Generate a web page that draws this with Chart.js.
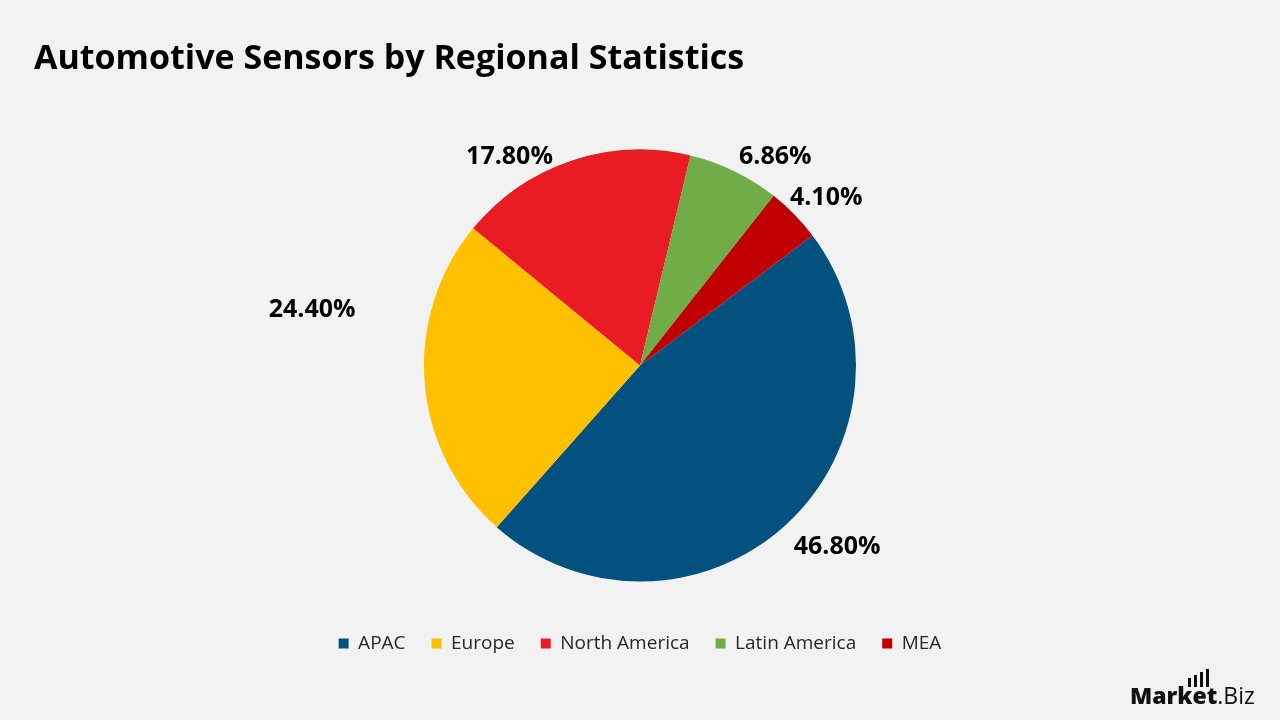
<!DOCTYPE html>
<html>
<head>
<meta charset="utf-8">
<script src="https://cdn.jsdelivr.net/npm/chart.js@4"></script>
<style>
  html, body { margin: 0; padding: 0; background: #f2f2f2; }
  #wrap { position: relative; width: 1280px; height: 720px; overflow: hidden; }
  #title { position: absolute; left: 34px; top: 33px; font-family: "Open Sans", sans-serif; font-weight: 700; font-size: 34px; color: #000; white-space: nowrap; }
  #logo { position: absolute; left: 1130px; top: 679px; font-family: "Open Sans", sans-serif; font-size: 23px; color: #111; white-space: nowrap; }
  #logo b { font-weight: 800; }
  .bar { position: absolute; width: 3px; background: #111; }
  canvas { position: absolute; left: 0; top: 0; }
</style>
</head>
<body>
<div id="wrap">
  <canvas id="pie" width="1280" height="720"></canvas>
  <div id="title">Automotive Sensors by Regional Statistics</div>
  <div id="logo"><b>Market</b>.Biz</div>
  <div class="bar" style="left:1188px;top:678px;height:9px"></div>
  <div class="bar" style="left:1194px;top:675px;height:12px"></div>
  <div class="bar" style="left:1200px;top:672px;height:15px"></div>
  <div class="bar" style="left:1206px;top:669px;height:18px"></div>
</div>
<script>
var regions = ["APAC", "Europe", "North America", "Latin America", "MEA"];
var shares = [46.80, 24.40, 17.80, 6.86, 4.10];
var colours = ["#02517f", "#ffc000", "#e91c24", "#70ad47", "#c00000"];

// where each % label sits: [degrees clockwise from top, distance as share of radius]
var labelSpots = [[132.6, 1.24], [279.7, 1.54], [328, 1.14], [33, 1.15], [48, 1.16]];

var outsideLabels = {
  id: 'outsideLabels',
  afterDatasetsDraw: function(chart) {
    var ctx = chart.ctx;
    var arcs = chart.getDatasetMeta(0).data;
    ctx.save();
    ctx.font = 'bold 25px "Open Sans", sans-serif';
    ctx.fillStyle = '#000';
    ctx.textAlign = 'center';
    ctx.textBaseline = 'middle';
    arcs.forEach(function(arc, i) {
      var a = labelSpots[i][0] * Math.PI / 180;
      var d = arc.outerRadius * labelSpots[i][1];
      ctx.fillText(shares[i].toFixed(2) + '%', arc.x + d * Math.sin(a), arc.y - d * Math.cos(a));
    });
    ctx.restore();
  }
};

new Chart(document.getElementById("pie"), {
  type: 'pie',
  data: {
    labels: regions,
    datasets: [{ data: shares, backgroundColor: colours, borderWidth: 0 }]
  },
  options: {
    responsive: false,
    animation: false,
    rotation: 53,
    radius: 216,
    layout: { padding: { top: 123, bottom: 57 } },
    plugins: {
      tooltip: { enabled: false },
      legend: {
        position: 'bottom',
        labels: {
          boxWidth: 10, boxHeight: 10, padding: 26,
          color: '#262626',
          font: { family: '"Open Sans", sans-serif', size: 19 }
        }
      }
    }
  },
  plugins: [outsideLabels]
});
</script>
</body>
</html>
